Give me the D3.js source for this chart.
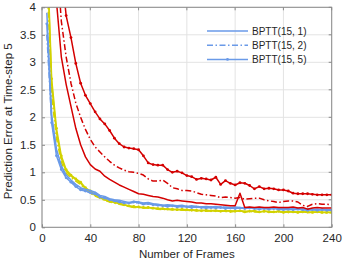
<!DOCTYPE html>
<html>
<head>
<meta charset="utf-8">
<script src="https://cdnjs.cloudflare.com/ajax/libs/d3/7.8.5/d3.min.js"></script>
<style>
  body { margin: 0; background: #fff; }
  text { font-family: "Liberation Sans", Arial, sans-serif; fill: #262626; }
</style>
</head>
<body>
<div id="chart"></div>
<script>
// frames on the x axis (every 4th frame)
var frames = [4, 8, 12, 16, 20, 24, 28, 32, 36, 40, 44, 48, 52, 56, 60, 64, 68, 72, 76, 80,
  84, 88, 92, 96, 100, 104, 108, 112, 116, 120, 124, 128, 132, 136, 140, 144, 148, 152, 156, 160,
  164, 168, 172, 176, 180, 184, 188, 192, 196, 200, 204, 208, 212, 216, 220, 224, 228, 232, 236, 240];

// red curves
var redSolid = [8.0, 6.0, 4.1, 3.1, 2.6, 2.2, 1.8, 1.5, 1.28, 1.14, 1.06, 1.02, 0.93, 0.87, 0.82, 0.77, 0.73, 0.69, 0.65, 0.61,
  0.60, 0.58, 0.56, 0.55, 0.53, 0.50, 0.48, 0.49, 0.48, 0.47, 0.46, 0.44, 0.44, 0.43, 0.43, 0.42, 0.41, 0.40, 0.39, 0.39,
  0.62, 0.36, 0.37, 0.36, 0.37, 0.36, 0.36, 0.37, 0.36, 0.36, 0.36, 0.37, 0.35, 0.36, 0.33, 0.35, 0.36, 0.35, 0.35, 0.35];
var redDash = [9.0, 7.0, 5.0, 3.75, 3.1, 2.62, 2.26, 2.0, 1.78, 1.6, 1.46, 1.37, 1.28, 1.2, 1.13, 1.08, 1.04, 1.01, 1.0, 0.98,
  0.95, 0.88, 0.84, 0.84, 0.86, 0.80, 0.72, 0.70, 0.67, 0.67, 0.66, 0.63, 0.60, 0.59, 0.58, 0.57, 0.54, 0.55, 0.54, 0.53,
  0.54, 0.51, 0.52, 0.53, 0.53, 0.50, 0.48, 0.47, 0.45, 0.47, 0.48, 0.48, 0.46, 0.40, 0.38, 0.42, 0.43, 0.42, 0.42, 0.41];
var redDot = [9.0, 7.6, 6.1, 4.7, 3.85, 3.45, 2.98, 2.62, 2.40, 2.25, 2.10, 1.97, 1.88, 1.76, 1.62, 1.52, 1.46, 1.44, 1.43, 1.41,
  1.30, 1.17, 1.14, 1.13, 1.13, 1.05, 1.00, 1.02, 0.99, 0.94, 0.92, 0.87, 0.89, 0.88, 0.86, 0.91, 0.78, 0.85, 0.80, 0.77,
  0.81, 0.80, 0.76, 0.70, 0.74, 0.70, 0.71, 0.70, 0.68, 0.68, 0.66, 0.62, 0.61, 0.61, 0.61, 0.60, 0.59, 0.59, 0.59, 0.59];

// blue curves (the ones in the legend)
var blueSolid = [3.9, 2.05, 1.42, 1.12, 0.95, 0.86, 0.78, 0.72, 0.69, 0.67, 0.64, 0.58, 0.56, 0.52, 0.50, 0.49, 0.47, 0.45, 0.47, 0.46,
  0.44, 0.45, 0.43, 0.42, 0.40, 0.41, 0.40, 0.39, 0.40, 0.38, 0.39, 0.38, 0.37, 0.38, 0.37, 0.38, 0.36, 0.37, 0.36, 0.37,
  0.36, 0.35, 0.36, 0.35, 0.36, 0.35, 0.34, 0.35, 0.34, 0.35, 0.34, 0.33, 0.34, 0.33, 0.34, 0.33, 0.32, 0.33, 0.32, 0.32];
var blueDash = [3.5, 1.95, 1.38, 1.08, 0.92, 0.83, 0.76, 0.70, 0.66, 0.62, 0.60, 0.57, 0.54, 0.51, 0.49, 0.47, 0.46, 0.44, 0.45, 0.44,
  0.43, 0.44, 0.42, 0.41, 0.40, 0.39, 0.40, 0.38, 0.39, 0.38, 0.37, 0.38, 0.37, 0.36, 0.37, 0.36, 0.37, 0.36, 0.35, 0.36,
  0.35, 0.36, 0.35, 0.34, 0.35, 0.34, 0.35, 0.34, 0.33, 0.34, 0.33, 0.34, 0.33, 0.32, 0.33, 0.32, 0.33, 0.32, 0.31, 0.31];
var blueDot = [3.7, 1.9, 1.3, 1.05, 0.9, 0.82, 0.74, 0.68, 0.66, 0.63, 0.62, 0.55, 0.53, 0.50, 0.48, 0.46, 0.44, 0.44, 0.46, 0.45,
  0.42, 0.43, 0.41, 0.40, 0.39, 0.38, 0.39, 0.37, 0.38, 0.37, 0.36, 0.37, 0.36, 0.35, 0.36, 0.35, 0.36, 0.34, 0.35, 0.34,
  0.35, 0.34, 0.35, 0.34, 0.33, 0.34, 0.33, 0.34, 0.33, 0.32, 0.33, 0.32, 0.33, 0.32, 0.31, 0.32, 0.31, 0.32, 0.31, 0.31];

// yellow curves
var yellowSolid = [5.0, 2.6, 1.72, 1.25, 1.02, 0.93, 0.87, 0.80, 0.70, 0.64, 0.58, 0.54, 0.50, 0.47, 0.45, 0.43, 0.41, 0.38, 0.37, 0.37,
  0.35, 0.36, 0.34, 0.34, 0.33, 0.33, 0.32, 0.33, 0.31, 0.31, 0.32, 0.30, 0.31, 0.30, 0.30, 0.31, 0.29, 0.30, 0.30, 0.29,
  0.30, 0.29, 0.29, 0.30, 0.28, 0.29, 0.29, 0.28, 0.29, 0.28, 0.29, 0.28, 0.28, 0.29, 0.27, 0.28, 0.28, 0.27, 0.28, 0.27];
var yellowDash = [4.6, 2.4, 1.62, 1.18, 0.98, 0.90, 0.84, 0.78, 0.69, 0.62, 0.57, 0.53, 0.49, 0.46, 0.44, 0.42, 0.40, 0.38, 0.36, 0.36,
  0.35, 0.35, 0.34, 0.33, 0.32, 0.33, 0.32, 0.31, 0.32, 0.30, 0.31, 0.30, 0.30, 0.29, 0.30, 0.29, 0.30, 0.29, 0.28, 0.29,
  0.29, 0.28, 0.29, 0.28, 0.28, 0.29, 0.28, 0.27, 0.28, 0.28, 0.27, 0.28, 0.27, 0.28, 0.27, 0.27, 0.28, 0.27, 0.26, 0.27];
var yellowDot = [5.2, 2.7, 1.8, 1.3, 1.05, 0.95, 0.88, 0.82, 0.72, 0.66, 0.60, 0.55, 0.51, 0.48, 0.46, 0.44, 0.41, 0.39, 0.38, 0.37,
  0.36, 0.36, 0.35, 0.34, 0.34, 0.33, 0.33, 0.32, 0.33, 0.32, 0.31, 0.31, 0.30, 0.31, 0.30, 0.30, 0.29, 0.30, 0.29, 0.29,
  0.30, 0.28, 0.29, 0.29, 0.28, 0.29, 0.28, 0.28, 0.29, 0.27, 0.28, 0.28, 0.27, 0.28, 0.28, 0.27, 0.28, 0.27, 0.27, 0.27];

var xTicks = [0, 40, 80, 120, 160, 200, 240];
var yTicks = [0, 0.5, 1, 1.5, 2, 2.5, 3, 3.5, 4];
var legendNames = ["BPTT(15, 1)", "BPTT(15, 2)", "BPTT(15, 5)"];

var RED = "#d40000", BLUE = "#6a9ae8", YELLOW = "#d2d200";
var DASHDOT = "6,2.5,1.5,2.5";

var series = [
  { v: yellowDash, color: YELLOW, dash: DASHDOT, dots: false },
  { v: yellowDot, color: YELLOW, dash: null, dots: true },
  { v: yellowSolid, color: YELLOW, dash: null, dots: false },
  { v: blueDash, color: BLUE, dash: DASHDOT, dots: false },
  { v: blueDot, color: BLUE, dash: null, dots: true },
  { v: blueSolid, color: BLUE, dash: null, dots: false },
  { v: redSolid, color: RED, dash: null, dots: false },
  { v: redDash, color: RED, dash: DASHDOT, dots: false },
  { v: redDot, color: RED, dash: null, dots: true }
];

var W = 343, H = 263;
var margin = { left: 42, right: 11.3, top: 7.3, bottom: 35.7 },
    width = W - margin.left - margin.right,
    height = H - margin.top - margin.bottom;

var svg = d3.select("#chart").append("svg")
    .attr("width", W)
    .attr("height", H);

var g = svg.append("g")
    .attr("transform", "translate(" + margin.left + "," + margin.top + ")");

var x = d3.scaleLinear().domain([0, 240]).range([0, width]);
var y = d3.scaleLinear().domain([0, 4]).range([height, 0]);

// grid
g.append("g").selectAll("line.gx")
  .data(xTicks).enter().append("line")
    .attr("x1", d => x(d)).attr("x2", d => x(d))
    .attr("y1", 0).attr("y2", height)
    .attr("stroke", "#e3e3e3").attr("stroke-width", 1);
g.append("g").selectAll("line.gy")
  .data(yTicks).enter().append("line")
    .attr("y1", d => y(d)).attr("y2", d => y(d))
    .attr("x1", 0).attr("x2", width)
    .attr("stroke", "#e3e3e3").attr("stroke-width", 1);

svg.append("clipPath").attr("id", "clip")
  .append("rect").attr("width", width).attr("height", height);

var plot = g.append("g").attr("clip-path", "url(#clip)");

var line = d3.line()
    .x(function(d, i) { return x(frames[i]); })
    .y(function(d) { return y(d); });

series.forEach(function(s) {
  plot.append("path")
    .attr("d", line(s.v))
    .attr("fill", "none")
    .attr("stroke", s.color)
    .attr("stroke-width", 1.5)
    .attr("stroke-linejoin", "round")
    .attr("stroke-dasharray", s.dash);
  if (s.dots) {
    plot.selectAll(null)
      .data(s.v).enter().append("circle")
        .attr("cx", function(d, i) { return x(frames[i]); })
        .attr("cy", function(d) { return y(d); })
        .attr("r", 1.4)
        .attr("fill", s.color);
  }
});

// axes
var xAxis = d3.axisBottom(x).tickValues(xTicks).tickSize(-3).tickPadding(7);
var yAxis = d3.axisLeft(y).tickValues(yTicks).tickSize(-3).tickPadding(6)
    .tickFormat(function(d) { return d; });

var gx = g.append("g").attr("transform", "translate(0," + height + ")").call(xAxis);
var gy = g.append("g").call(yAxis);
[gx, gy].forEach(function(a) {
  a.select(".domain").remove();
  a.selectAll("line").attr("stroke", "#8a8a8a");
  a.selectAll("text").style("font-size", "11.5px").attr("fill", "#262626");
});
gx.selectAll("text").attr("dy", "0.71em");

// right side ticks
g.append("g").selectAll("line")
  .data(yTicks).enter().append("line")
    .attr("x1", width).attr("x2", width - 3)
    .attr("y1", d => y(d)).attr("y2", d => y(d))
    .attr("stroke", "#8a8a8a");
g.append("g").selectAll("line")
  .data(xTicks).enter().append("line")
    .attr("y1", 0).attr("y2", 3)
    .attr("x1", d => x(d)).attr("x2", d => x(d))
    .attr("stroke", "#8a8a8a");

// box
g.append("rect")
  .attr("width", width).attr("height", height)
  .attr("fill", "none").attr("stroke", "#8a8a8a").attr("stroke-width", 1);

// labels
svg.append("text")
  .attr("x", margin.left + width / 2).attr("y", 258)
  .attr("text-anchor", "middle")
  .style("font-size", "11.5px")
  .text("Number of Frames");

svg.append("text")
  .attr("transform", "translate(12," + (margin.top + height / 2 + 4) + ") rotate(-90)")
  .attr("text-anchor", "middle")
  .style("font-size", "11.5px")
  .text("Prediction Error at Time-step 5");

// legend
var legStyles = [
  { dash: null, dots: false },
  { dash: DASHDOT, dots: false },
  { dash: null, dots: true }
];
var leg = svg.append("g").attr("transform", "translate(207,31)");
legendNames.forEach(function(name, i) {
  var row = leg.append("g").attr("transform", "translate(0," + (i * 14.2) + ")");
  row.append("line")
    .attr("x1", 0).attr("x2", 41)
    .attr("stroke", BLUE).attr("stroke-width", 1.5)
    .attr("stroke-dasharray", legStyles[i].dash);
  if (legStyles[i].dots) {
    row.append("circle").attr("cx", 20.5).attr("cy", 0).attr("r", 1.4).attr("fill", BLUE);
  }
  row.append("text")
    .attr("x", 45).attr("y", 3.6)
    .style("font-size", "10px")
    .text(name);
});
</script>
</body>
</html>
